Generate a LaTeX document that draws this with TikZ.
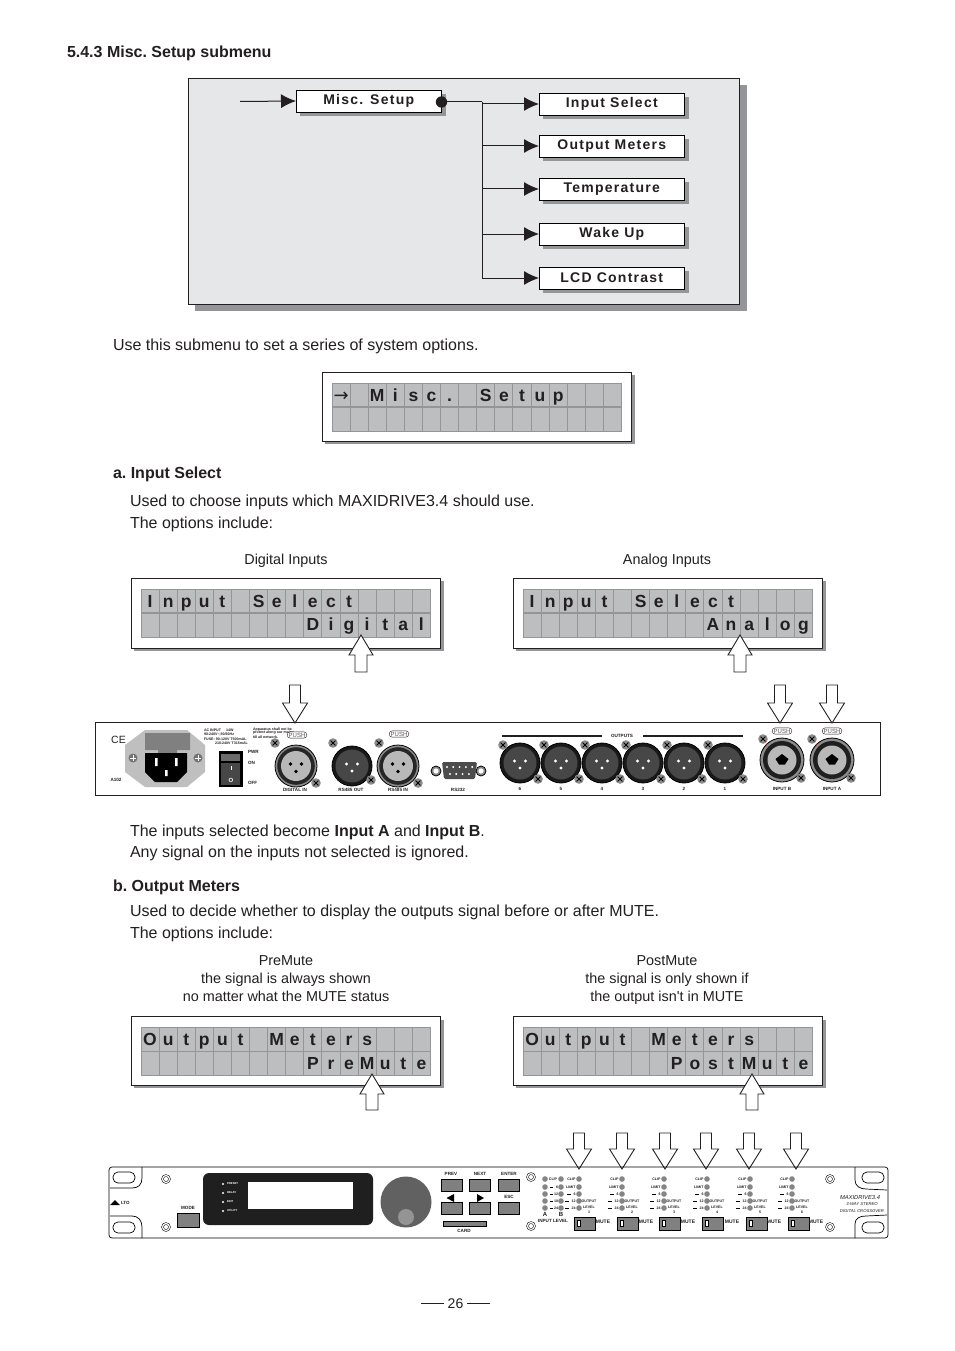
\documentclass[tikz,border=0pt]{standalone}
\usepackage{fontspec}
\setmainfont{Liberation Sans}
\newfontfamily\menufont[LetterSpace=9]{Liberation Sans}
\newfontfamily\symfont{DejaVu Sans}
\usetikzlibrary{arrows.meta}
\definecolor{panelbg}{HTML}{E6E7E8}
\definecolor{shadowgr}{HTML}{939598}
\definecolor{lcdbg}{HTML}{BCBEC0}
\definecolor{lcdline}{HTML}{939598}
\definecolor{txtk}{HTML}{231F20}
\newcounter{nn}
\newcommand\lab[4][]{\stepcounter{nn}\node[plain,#1] (lab\arabic{nn}) at (#2,#3) {#4};}
\tikzset{
 plain/.style={inner sep=0pt,outer sep=0pt,text=txtk,font=\fontsize{16}{18}\selectfont\frenchspacing},
 bt/.style={text height=10pt,text depth=0pt},
 head/.style={bt,font=\fontsize{16}{18}\selectfont\bfseries\frenchspacing},
 sub/.style={bt,font=\fontsize{14.4}{17}\selectfont\frenchspacing},
 lcdchar/.style={font=\fontsize{17.5}{20}\selectfont\bfseries,anchor=base},
 tiny/.style={font=\fontsize{4.6}{5}\selectfont\bfseries},
 wee/.style={font=\fontsize{3.6}{4}\selectfont\bfseries},
 menubox/.style={draw=black,fill=white,line width=.8pt,minimum width=145.5pt,minimum height=22pt,inner sep=0pt,outer sep=0pt,font=\fontsize{14}{16}\menufont\bfseries,text=txtk},
 conn/.style={line width=1pt,draw=txtk},
 arr/.style={conn,-{Latex[length=15pt,width=14pt]}},
 hollow/.style={draw=txtk,fill=white,line width=.9pt,line join=miter},
 pushlab/.style={draw=txtk,fill=white,rounded corners=3pt,line width=.4pt,inner xsep=1.5pt,inner ysep=1pt,font=\fontsize{6}{6}\selectfont,text=black!65},
 btn/.style={draw=black,fill=black!50,line width=.6pt},
 led/.style={fill=black!48},
 earline/.style={draw=black,line width=.7pt},
 xmark/.style={line width=.9pt,draw=black},
}
\newcommand\menu[4]{\fill[shadowgr] (#2+4,#3+4) rectangle ++(145.5,22);
  \node[menubox,anchor=north west] (#1) at (#2,#3) {#4};}
% name, x, y, height, row1, row2
\newcommand\lcd[6]{%
 \fill[shadowgr] (#2+3,#3+3) rectangle ++(310,#4);
 \draw[fill=white,line width=.9pt,draw=txtk] (#2,#3) rectangle ++(309.5,#4);
 \begin{scope}[shift={(#2+10,#3+11)}]
  \fill[lcdbg] (0,0) rectangle (289.5,48);
  \foreach \i in {0,...,16} \draw[lcdline,line width=.9pt] (\i*18.09,0) -- (\i*18.09,48);
  \foreach \j in {0,48} \draw[lcdline,line width=.9pt] (0,\j) -- (289.5,\j);
  \draw[lcdline,line width=1.4pt] (0,24) -- (289.5,24);
  \foreach \c/\t in {#5} {\lab[lcdchar]{\c*18.09+9.05}{18}{\t}}
  \foreach \c/\t in {#6} {\lab[lcdchar]{\c*18.09+9.05}{41.5}{\t}}
 \end{scope}}
\newcommand\arrowup[3]{\draw[hollow] (#1,#2) -- ++(12,20) -- ++(-6,0) -- ++(0,#3) -- ++(-12,0) -- ++(0,-#3) -- ++(-6,0) -- cycle;}
\newcommand\arrowdn[3]{\draw[hollow] (#1,#2) -- ++(12.5,-20) -- ++(-7,0) -- ++(0,-#3) -- ++(-11,0) -- ++(0,#3) -- ++(-7,0) -- cycle;}
\newcommand\screw[2]{\fill[black!45] (#1,#2) circle (4.8);
 \draw[xmark] (#1-2.4,#2-2.4) -- (#1+2.4,#2+2.4) (#1-2.4,#2+2.4) -- (#1+2.4,#2-2.4);}
\newcommand\xlrf[2]{\begin{scope}[shift={(#1,#2)}]
 \draw[fill=black!45,line width=.8pt] (0,0) circle (21);
 \fill[black!85] (0,0) circle (18.8);
 \fill[black!28] (0,0) circle (15);
 \fill[black] (-5.5,-2) circle (1.9) (5.5,-2) circle (1.9) (0,5.5) circle (1.9);
 \end{scope}}
\newcommand\xlrm[2]{\begin{scope}[shift={(#1,#2)}]
 \draw[fill=black!90,line width=.8pt] (0,0) circle (20);
 \fill[black!72] (0,0) circle (16.5);
 \fill[white] (-5.5,-2) circle (1.7) (5.5,-2) circle (1.7) (0,5) circle (1.7);
 \end{scope}}
\newcommand\combo[2]{\begin{scope}[shift={(#1,#2)}]
 \draw[fill=black!45,line width=.8pt] (0,0) circle (22);
 \fill[black!88] (0,0) circle (19);
 \fill[black!28] (0,0) circle (14.5);
 \fill[black] (-6.5,-1) -- (0,-6) -- (6.5,-1) -- (3,4.5) -- (-3,4.5) -- cycle;
 \fill[red] (-15.5,-15) circle (.7);
 \end{scope}}
\newcommand\ledcol[2]{\foreach \yy in {#2} \fill[led] (#1,\yy) circle (2.8);}
\begin{document}
\begin{tikzpicture}[x=1pt,y=-1pt]
\useasboundingbox (0,0) rectangle (954,1351);
\fill[white] (0,0) rectangle (954,1351);

\lab[head,anchor=west]{67}{53}{5.4.3 Misc. Setup submenu}

% menu diagram
\fill[shadowgr] (195,85) rectangle (747,311);
\draw[fill=panelbg,draw=txtk,line width=.9pt] (188,78) rectangle (739.5,304);
\menu{misc}{296}{90}{Misc. Setup}
\menu{m1}{539}{93}{Input Select}
\menu{m2}{539}{135}{Output Meters}
\menu{m3}{539}{178}{Temperature}
\menu{m4}{539}{223}{Wake Up}
\menu{m5}{539}{267}{LCD Contrast}
\coordinate (start) at (240,101.5);
\coordinate (dot) at (441.5,102);
\coordinate (bus) at (482,102);
\draw[arr] (start) -- (misc.west);
\fill[txtk] (dot) circle (5.7);
\draw[conn] (dot) -- (bus);
\draw[conn] (bus) -- (bus |- m5.west);
\foreach \m in {m1,m2,m3,m4,m5} \draw[arr] (bus |- \m.west) -- (\m.west);

\lab[bt,anchor=west]{113}{345}{Use this submenu to set a series of system options.}

\lcd{lcdmisc}{322}{372}{69}{0/{\symfont\fontsize{18}{20}\selectfont\mdseries→},2/M,3/i,4/s,5/c,6/.,8/S,9/e,10/t,11/u,12/p}{0/{}}

\lab[head,anchor=west]{113}{473}{a. Input Select}
\lab[bt,anchor=west]{130}{501}{Used to choose inputs which MAXIDRIVE3.4 should use.}
\lab[bt,anchor=west]{130}{523}{The options include:}
\lab[sub]{286}{559}{Digital Inputs}
\lab[sub]{667}{559}{Analog Inputs}

\lcd{lcddig}{131}{578}{70}{0/I,1/n,2/p,3/u,4/t,6/S,7/e,8/l,9/e,10/c,11/t}{9/D,10/i,11/g,12/i,13/t,14/a,15/l}
\lcd{lcdana}{513}{578}{70}{0/I,1/n,2/p,3/u,4/t,6/S,7/e,8/l,9/e,10/c,11/t}{10/A,11/n,12/a,13/l,14/o,15/g}
\arrowup{361}{635}{17}
\arrowup{740}{635}{17}

% rear panel
\draw[fill=white,draw=txtk,line width=.8pt] (95,722) rectangle (880,795);
\lab[font=\fontsize{10.5}{11}\selectfont]{118.5}{740}{CE}
\lab[tiny]{116}{780}{A102}
\fill[black!25] (145,730) -- (187,730) -- (205,745) -- (205,772) -- (187,787) -- (145,787) -- (125,772) -- (125,745) -- cycle;
\fill[black!50] (145,733) -- (190,733) -- (190,750) -- (177,750) -- (177,753) -- (158,753) -- (158,750) -- (145,750) -- cycle;
\fill[black] (145,753) -- (187,753) -- (187,772) -- (177,782) -- (155,782) -- (145,772) -- cycle;
\fill[white] (155,758) rectangle (157.5,766) (175,758) rectangle (177.5,766) (165,770) rectangle (167.5,776);
\foreach \sx in {133,198} {\fill[black!55] (\sx,758) circle (4.5); \draw[white,line width=.6pt] (\sx-3,758) -- (\sx+3,758) (\sx,755) -- (\sx,761);}
\fill[black] (219,751) rectangle (243,787);
\fill[black!58] (221,754) rectangle (240,761);
\fill[black!72] (221,763) rectangle (240,785);
\lab[font=\fontsize{6}{6}\selectfont\bfseries,text=white]{231}{780}{O}
\fill[white] (230.5,765.5) rectangle (231.5,769.5);
\lab[tiny,anchor=west]{248}{752}{PWR}
\lab[tiny,anchor=west]{248}{763}{ON}
\lab[tiny,anchor=west]{248}{783}{OFF}
\lab[wee,anchor=west]{204}{730}{AC INPUT \ \ \ \ 14W}
\lab[wee,anchor=west]{204}{734.5}{90-240V\textasciitilde,50/60Hz}
\lab[wee,anchor=west]{204}{739}{FUSE: 90-120V T500mAL}
\lab[wee,anchor=west]{215}{743}{210-240V T315mAL}
\lab[wee,anchor=west]{253}{729.5}{Apparatus shall not be}
\lab[wee,anchor=west]{253}{733}{protect along our mains}
\lab[wee,anchor=west]{253}{737}{till all network.}

\xlrf{296}{766}
\xlrm{352}{766}
\xlrf{398}{766}
\screw{275}{743}\screw{316}{783}\screw{333}{743}\screw{371}{780}\screw{379}{743}\screw{418}{783}
\lab[pushlab]{297}{735}{PUSH}
\lab[pushlab]{399}{734}{PUSH}
\lab[tiny]{295}{790}{DIGITAL IN}
\lab[tiny]{351}{790}{RS485 OUT}
\lab[tiny]{398}{790}{RS485 IN}
\lab[tiny]{458}{790}{RS232}
% RS232
\foreach \sx in {436,481} {\draw[fill=black!45,line width=.8pt] (\sx,771) circle (5); \fill[white] (\sx,771) circle (2.6);}
\fill[black!70,rounded corners=1.5pt] (442,762) -- (477,762) -- (475,779) -- (444,779) -- cycle;
\foreach \i in {0,...,4} \fill[white] (447+\i*6.3,767) circle (1.1);
\foreach \i in {0,...,3} \fill[white] (450+\i*6.3,774) circle (1.1);
% outputs
\foreach \cx in {520,561,602,643,684,725} {\xlrm{\cx}{763}\screw{\cx-17}{745}\screw{\cx+18}{779}}
\foreach \cx/\t in {520/6,561/5,602/4,643/3,684/2,725/1} {\lab[tiny]{\cx}{788.5}{\t}}
\draw[txtk,line width=1.6pt] (502,736) -- (602,736) (643,736) -- (743,736);
\lab[tiny]{622}{736}{OUTPUTS}
% combos
\combo{782}{760}\combo{832}{760}
\screw{763}{739}\screw{801}{778}\screw{812}{739}\screw{851}{778}
\lab[pushlab]{782}{731}{PUSH}
\lab[pushlab]{832}{731}{PUSH}
\lab[tiny]{782}{789}{INPUT B}
\lab[tiny]{832}{789}{INPUT A}
\arrowdn{295}{723}{18}
\arrowdn{780}{723}{18}
\arrowdn{832}{723}{18}

\lab[bt,anchor=west]{130}{831}{The inputs selected become \textbf{Input A} and \textbf{Input B}.}
\lab[bt,anchor=west]{130}{852}{Any signal on the inputs not selected is ignored.}
\lab[head,anchor=west]{113}{886}{b. Output Meters}
\lab[bt,anchor=west]{130}{911}{Used to decide whether to display the outputs signal before or after MUTE.}
\lab[bt,anchor=west]{130}{933}{The options include:}
\lab[sub]{286}{960}{PreMute}
\lab[sub]{286}{978}{the signal is always shown}
\lab[sub]{286}{996}{no matter what the MUTE status}
\lab[sub]{667}{960}{PostMute}
\lab[sub]{667}{978}{the signal is only shown if}
\lab[sub]{667}{996}{the output isn\textquotesingle t in MUTE}

\lcd{lcdpre}{131}{1016.5}{68.5}{0/O,1/u,2/t,3/p,4/u,5/t,7/M,8/e,9/t,10/e,11/r,12/s}{9/P,10/r,11/e,12/M,13/u,14/t,15/e}
\lcd{lcdpost}{513}{1016.5}{68.5}{0/O,1/u,2/t,3/p,4/u,5/t,7/M,8/e,9/t,10/e,11/r,12/s}{8/P,9/o,10/s,11/t,12/M,13/u,14/t,15/e}
\arrowup{372}{1074}{16}
\arrowup{752}{1074}{16}
\foreach \ax in {579,622,665,706,749,796} {\arrowdn{\ax}{1169}{16}}

% front panel
\draw[earline,rounded corners=3pt] (109,1167) rectangle (888,1238);
\draw[earline] (142,1167) -- (142,1178) .. controls (142,1185) and (138,1188) .. (132,1188) -- (110,1188);
\draw[earline] (142,1238) -- (142,1227) .. controls (142,1220) and (138,1216) .. (132,1216) -- (110,1216);
\draw[earline] (855,1167) -- (855,1180) .. controls (855,1186) and (860,1189) .. (866,1189) -- (887,1190);
\draw[earline] (855,1238) -- (855,1224) .. controls (855,1218) and (860,1216) .. (866,1216) -- (887,1215);
\foreach \ox/\oy in {113/1172,113/1222,862/1172,862/1222} \draw[earline,rounded corners=5pt] (\ox,\oy) rectangle ++(22,11);
\foreach \sx/\sy in {166/1179,166/1227,531/1177,531/1226,830/1179,830/1227} {\draw[line width=.4pt] (\sx,\sy) circle (4.5); \draw[line width=.4pt] (\sx,\sy) circle (2.5);}
\fill[black] (110,1205) -- (115,1200) -- (120,1205) -- cycle;
\lab[font=\fontsize{4.5}{5}\selectfont\bfseries,anchor=west]{121}{1203}{LTO}
\lab[tiny]{188}{1208}{MODE}
\draw[btn] (177,1213) rectangle (199,1227);
\fill[black!88,rounded corners=6pt] (203,1173) rectangle (373,1225);
\draw[fill=white,draw=white] (248,1182) rectangle (352,1208);
\foreach \ly/\t in {1184/PRESET,1193/DELAY,1202/EDIT,1211/UTILITY} {\fill[white] (223,\ly) circle (1.2); \lab[wee,text=white,anchor=west,font=\fontsize{2.8}{3}\selectfont\bfseries]{227}{\ly}{\t}}
\fill[black!62] (406,1202) circle (25.5);
\fill[black!42] (406,1217) circle (8);
\lab[tiny]{451}{1174}{PREV}
\lab[tiny]{480}{1174}{NEXT}
\lab[tiny]{509}{1174}{ENTER}
\lab[tiny]{509}{1197}{ESC}
\foreach \bx in {441,469,498} {\draw[btn] (\bx,1179) rectangle ++(21,12); \draw[btn] (\bx,1202) rectangle ++(21,12);}
\fill[black] (446.5,1198) -- (454,1194) -- (454,1202) -- cycle;
\fill[black] (484,1198) -- (477,1194) -- (477,1202) -- cycle;
\draw[btn,line width=.5pt] (443,1221) rectangle (486,1226);
\lab[tiny]{464}{1231}{CARD}
% level meters
\ledcol{545}{1179,1187,1194,1201,1208}
\ledcol{561}{1179,1187,1194,1201,1208}
\lab[wee]{553}{1179}{CLIP}
\foreach \ly/\t in {1187/6,1194/12,1201/18,1208/24} {\lab[wee,anchor=east]{558}{\ly}{\t} \draw[line width=.4pt] (549.5,\ly) -- (552.5,\ly);}
\lab[tiny,font=\fontsize{6}{6}\selectfont\bfseries]{545}{1214}{A}
\lab[tiny,font=\fontsize{6}{6}\selectfont\bfseries]{561}{1214}{B}
\lab[tiny]{553}{1221}{INPUT LEVEL}
\foreach \lx/\n in {579/1,622/2,664/3,707/4,750/5,792/6} {
 \ledcol{\lx}{1179,1187,1194,1201,1208}
 \lab[wee,anchor=east]{\lx-3.5}{1179}{CLIP}
 \lab[wee,anchor=east]{\lx-3.5}{1187}{LIMIT}
 \lab[wee,anchor=east]{\lx-3.5}{1194}{6}
 \lab[wee,anchor=east]{\lx-3.5}{1201}{12}
 \lab[wee,anchor=east]{\lx-3.5}{1208}{24}
 \draw[line width=.4pt] (\lx-12,1194) -- (\lx-8.5,1194) (\lx-14,1201) -- (\lx-10,1201) (\lx-14,1208) -- (\lx-10,1208);
 \lab[wee]{\lx+10}{1201}{OUTPUT}
 \lab[wee]{\lx+10}{1207}{LEVEL}
 \lab[wee]{\lx+10}{1212}{\n}
}
\foreach \mx/\tx in {574/603,617/646,659/688,702/732,746/774,788/816} {
 \draw[btn] (\mx,1217) rectangle ++(21,13);
 \draw[fill=white,line width=.8pt] (\mx+3,1220) rectangle ++(3,6.5);
 \lab[tiny,font=\fontsize{5}{5}\selectfont\bfseries]{\tx}{1222}{MUTE}
}
\lab[font=\fontsize{5.8}{6}\selectfont\itshape]{860}{1197}{MAXIDRIVE3.4}
\lab[font=\fontsize{4.2}{5}\selectfont\itshape]{862}{1204}{3-WAY STEREO}
\lab[font=\fontsize{4.2}{5}\selectfont\itshape]{862}{1211}{DIGITAL CROSSOVER}

\lab[font=\fontsize{14}{16}\selectfont]{455.5}{1304}{26}
\draw[txtk,line width=.7pt] (421,1303) -- (444,1303) (467,1303) -- (490,1303);
\end{tikzpicture}
\end{document}
